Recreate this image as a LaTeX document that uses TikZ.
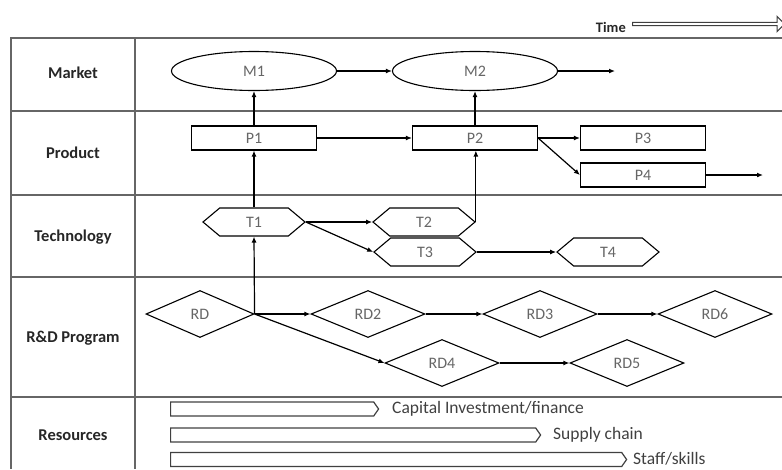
\documentclass[tikz,border=0pt]{standalone}
\usepackage{fontspec}
\setmainfont{Carlito}
\usetikzlibrary{shapes.geometric,shapes.symbols,shapes.arrows,arrows.meta}
\begin{document}
\begin{tikzpicture}[x=1pt,y=-1pt,
  grid/.style={draw=black!60, line width=1.3pt},
  conn/.style={draw=black, line width=1.2pt, -{Latex[length=6pt,width=5pt]}},
  rowlab/.style={font=\bfseries\fontsize{16.5}{18}\selectfont, text=black!85},
  ntxt/.style={font=\fontsize{16}{18}\selectfont, text=black!60},
  mkt/.style={ellipse, draw, line width=1.1pt, minimum width=165pt, minimum height=39pt, inner sep=0pt, ntxt},
  prod/.style={rectangle, draw, line width=1.1pt, minimum width=125pt, minimum height=24pt, inner sep=0pt, ntxt},
  tech/.style={signal, signal to=west and east, signal pointer angle=80, draw, line width=1.1pt, minimum width=102pt, minimum height=28pt, inner sep=0pt, ntxt},
  rdp/.style={diamond, draw, line width=1.1pt, minimum width=114pt, minimum height=47pt, inner sep=0pt, ntxt},
  resbar/.style={signal, signal to=east, signal pointer angle=110, draw=black!75, line width=1.2pt, minimum height=14pt, inner sep=0pt},
  restxt/.style={font=\fontsize{17.5}{19}\selectfont, text=black!75, anchor=west, inner sep=0pt}
]
\useasboundingbox (0,0) rectangle (782,469);
% table
\draw[grid] (782,38) -- (11,38) -- (11,469);
\draw[grid] (135,38) -- (135,469);
\draw[grid] (11,111) -- (782,111);
\draw[grid] (11,195) -- (782,195);
\draw[grid] (11,277) -- (782,277);
\draw[grid] (11,397) -- (782,397);
% row labels
\node[rowlab] (lmarket) at (73,73) {Market};
\node[rowlab] (lproduct) at (73,153) {Product};
\node[rowlab] (ltech) at (73,237) {Technology};
\node[rowlab] (lrd) at (73,338) {R\&D Program};
\node[rowlab] (lres) at (73,435) {Resources};
% time
\node[font=\bfseries\fontsize{14.5}{16}\selectfont, text=black!85, anchor=east, inner sep=0pt] (time) at (626,27) {Time};
\node[single arrow, draw=black!75, line width=1.1pt, minimum height=152pt, minimum width=15pt, single arrow head extend=2pt, single arrow head indent=0pt, inner sep=0pt, anchor=tail] (tarrow) at (632,24) {};
% market
\node[mkt] (m1) at (254,71) {M1};
\node[mkt] (m2) at (475,71) {M2};
\coordinate (m2end) at (615,71);
% product
\node[prod] (p1) at (254,138) {P1};
\node[prod] (p2) at (475,138) {P2};
\node[prod] (p3) at (643,138) {P3};
\node[prod] (p4) at (643,175) {P4};
\coordinate (p4end) at (763,175);
% technology
\node[tech] (t1) at (254,222) {T1};
\node[tech] (t2) at (424,222) {T2};
\node[tech] (t3) at (425,252) {T3};
\node[tech] (t4) at (608,252) {T4};
% R&D
\node[rdp, minimum width=108pt] (rd) at (200,314) {RD};
\node[rdp] (rd2) at (368,314) {RD2};
\node[rdp] (rd3) at (540,314) {RD3};
\node[rdp] (rd6) at (715,314) {RD6};
\node[rdp] (rd4) at (442,363) {RD4};
\node[rdp] (rd5) at (627,363) {RD5};
% resources
\node[resbar, minimum width=208pt, anchor=west] (cap) at (170,409) {};
\node[resbar, minimum width=370pt, anchor=west] (sup) at (170,435) {};
\node[resbar, minimum width=456pt, anchor=west] (staff) at (170,459.5) {};
\node[restxt] (captxt) at (392,409) {Capital Investment/finance};
\node[restxt] (suptxt) at (553,435) {Supply chain};
\node[restxt] (stafftxt) at (633,459) {Staff/skills};
% connectors
\draw[conn] (m1.east) -- (m2.west);
\draw[conn] (m2.east) -- (m2end);
\draw[conn] (p1.north) -- (m1.south);
\draw[conn] (p2.north) -- (m2.south);
\draw[conn] (p1.east) -- (p2.west);
\draw[conn] (p2.east) -- (p3.west);
\draw[conn] (p2.east) -- (p4.west);
\draw[conn] (p4.east) -- (p4end);
\draw[conn] (t1.north) -- (p1.south);
\draw[conn] (t1.east) -- (t2.west);
\draw[conn] (t1.east) -- (t3.west);
\draw[conn] (t2.east) -- (t2.east |- p2.south);
\draw[conn] (t3.east) -- (t4.west);
\draw[conn] (rd.east) -- (t1.south);
\draw[conn] (rd.east) -- (rd2.west);
\draw[conn] (rd.east) -- (rd4.west);
\draw[conn] (rd2.east) -- (rd3.west);
\draw[conn] (rd3.east) -- (rd6.west);
\draw[conn] (rd4.east) -- (rd5.west);
\end{tikzpicture}
\end{document}
